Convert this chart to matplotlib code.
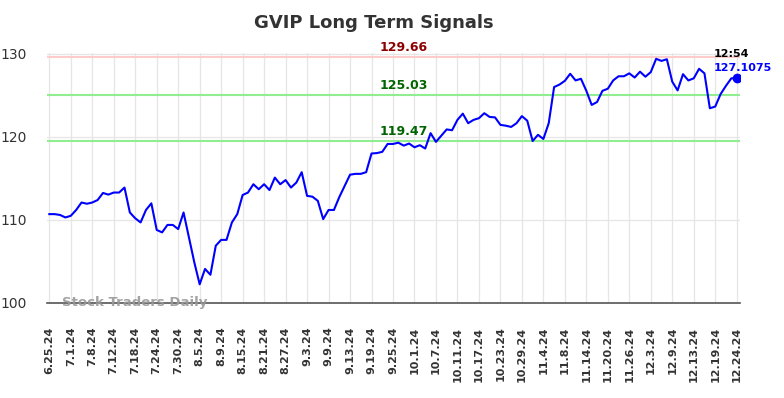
import matplotlib
matplotlib.use("Agg")
import matplotlib.pyplot as plt

title = "GVIP Long Term Signals"
tick_labels = ["6.25.24", "7.1.24", "7.8.24", "7.12.24", "7.18.24", "7.24.24", "7.30.24",
               "8.5.24", "8.9.24", "8.15.24", "8.21.24", "8.27.24", "9.3.24", "9.9.24",
               "9.13.24", "9.19.24", "9.25.24", "10.1.24", "10.7.24", "10.11.24", "10.17.24",
               "10.23.24", "10.29.24", "11.4.24", "11.8.24", "11.14.24", "11.20.24", "11.26.24",
               "12.3.24", "12.9.24", "12.13.24", "12.19.24", "12.24.24"]

prices = [
    110.7, 110.7, 110.6, 110.3, 110.5, 111.2, 112.1, 111.95, 112.1, 112.4,
    113.25, 113.05, 113.3, 113.3, 113.9, 110.9, 110.2, 109.7, 111.2, 112.0,
    108.8, 108.5, 109.4, 109.4, 108.9, 110.9, 107.9, 104.9, 102.25, 104.1,
    103.4, 106.9, 107.6, 107.6, 109.7, 110.7, 113.0, 113.3, 114.3, 113.7,
    114.3, 113.6, 115.1, 114.3, 114.8, 113.9, 114.5, 115.75, 112.9, 112.8,
    112.3, 110.1, 111.2, 111.2, 112.75, 114.1, 115.45, 115.55, 115.55, 115.75,
    118.0, 118.05, 118.2, 119.15, 119.15, 119.3, 118.95, 119.2, 118.75, 119.0,
    118.6, 120.45, 119.4, 120.15, 120.9, 120.8, 122.05, 122.8, 121.65, 122.05,
    122.25, 122.85, 122.4, 122.35, 121.45, 121.35, 121.2, 121.65, 122.5, 121.95,
    119.5, 120.25, 119.75, 121.65, 126.0, 126.3, 126.75, 127.6, 126.8, 127.0,
    125.55, 123.85, 124.2, 125.55, 125.8, 126.8, 127.3, 127.3, 127.65, 127.15,
    127.85, 127.25, 127.8, 129.4, 129.15, 129.35, 126.65, 125.6, 127.55, 126.8,
    127.05, 128.2, 127.65, 123.45, 123.65, 125.15, 126.15, 127.05, 127.1075,
]

resistance = 129.66
support_upper = 125.03
support_lower = 119.47
last_time = "12:54"
last_value = 127.1075
yticks = [100, 110, 120, 130]

fig = plt.figure(figsize=(7.84, 3.98), dpi=100)
ax = fig.add_axes([0.0596, 0.2387, 0.8843, 0.6281])

x = list(range(len(prices)))
ax.plot(x, prices, color="#0000ff", linewidth=1.5, zorder=5)
ax.plot([x[-1]], [last_value], "o", color="#0000ff", markersize=6, zorder=6)

ax.axhline(resistance, color="#ffcccc", linewidth=1.5, zorder=3)
ax.axhline(support_upper, color="#90ee90", linewidth=1.5, zorder=3)
ax.axhline(support_lower, color="#90ee90", linewidth=1.5, zorder=3)

label_x = 66
ax.text(label_x, resistance + 0.35, f"{resistance:.2f}", color="#8b0000", fontsize=9,
        fontweight="bold", ha="center", va="bottom", zorder=7)
ax.text(label_x, support_upper + 0.35, f"{support_upper:.2f}", color="#006400", fontsize=9,
        fontweight="bold", ha="center", va="bottom", zorder=7)
ax.text(label_x, support_lower + 0.35, f"{support_lower:.2f}", color="#006400", fontsize=9,
        fontweight="bold", ha="center", va="bottom", zorder=7)

ax.text(x[-1] - 4.2, 129.4, last_time, color="black", fontsize=8, fontweight="bold",
        ha="left", va="bottom", zorder=7)
ax.text(x[-1] - 4.2, 127.75, f"{last_value}", color="#0000ff", fontsize=8, fontweight="bold",
        ha="left", va="bottom", zorder=7)

ax.text(2.4, 100.1, "Stock Traders Daily", color="#999999", fontsize=9.5, fontweight="bold",
        ha="left", va="center", alpha=0.9, zorder=8)

tick_pos = [i * 4 for i in range(len(tick_labels))]
ax.set_xticks(tick_pos)
ax.set_xticklabels(tick_labels, rotation=90, fontsize=8, fontweight="bold", color="#333333")
ax.set_yticks(yticks)
ax.set_yticklabels([str(v) for v in yticks], fontsize=10, color="#333333")
ax.tick_params(axis="both", length=0)
ax.tick_params(axis="y", pad=14)
ax.tick_params(axis="x", pad=17)

ax.set_xlim(-0.48, 128.62)
ax.set_ylim(100, 130.1)
ax.grid(True, color="#e6e6e6", linewidth=0.9, zorder=0)
ax.set_axisbelow(True)
for s in ["top", "right", "left"]:
    ax.spines[s].set_visible(False)
ax.spines["bottom"].set_color("#555555")
ax.spines["bottom"].set_linewidth(1.2)

fig.suptitle(title, x=0.477, y=0.965, fontsize=13, fontweight="bold", color="#333333")

fig.savefig("out.png", dpi=100)
